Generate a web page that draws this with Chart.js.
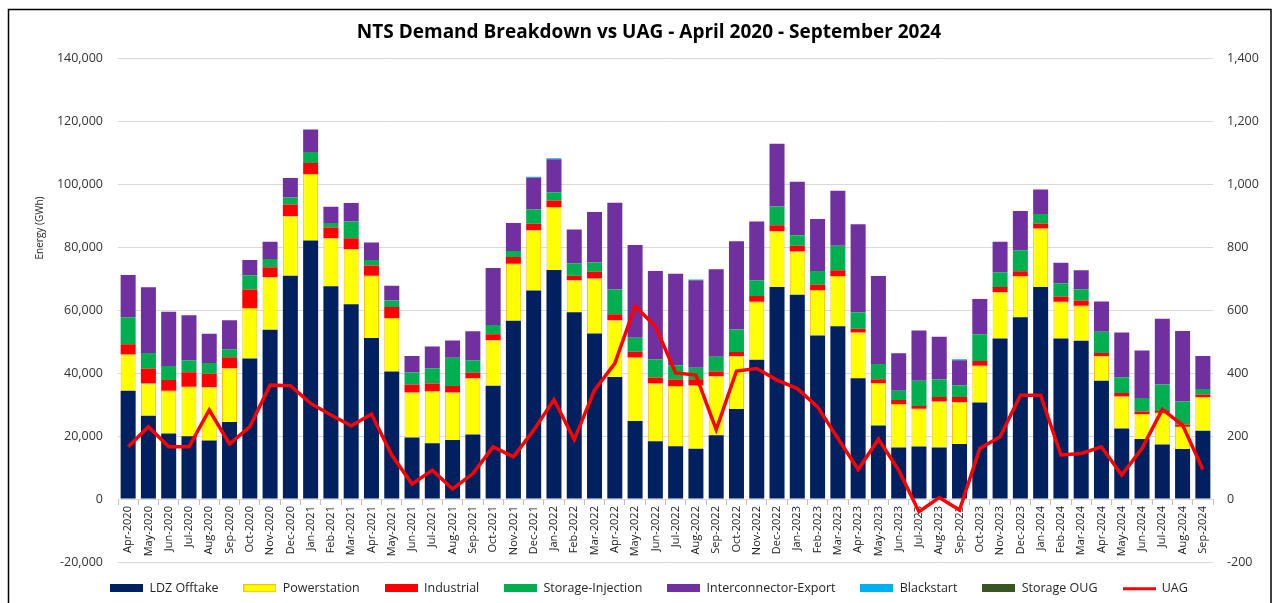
<!DOCTYPE html>
<html>
<head>
<meta charset="utf-8">
<script src="https://cdn.jsdelivr.net/npm/chart.js@4.4.1/dist/chart.umd.min.js"></script>
<style>
html,body{margin:0;padding:0;background:#ffffff;}
#wrap{width:1278px;height:603px;position:relative;overflow:hidden;}
</style>
</head>
<body>
<div id="wrap"><canvas id="c" width="1278" height="603"></canvas></div>
<script>
const chartTitle = 'NTS Demand Breakdown vs UAG - April 2020 - September 2024';
const yAxisTitle = 'Energy (GWh)';

const months = [
  'Apr-2020','May-2020','Jun-2020','Jul-2020','Aug-2020','Sep-2020','Oct-2020','Nov-2020','Dec-2020',
  'Jan-2021','Feb-2021','Mar-2021','Apr-2021','May-2021','Jun-2021','Jul-2021','Aug-2021','Sep-2021','Oct-2021','Nov-2021','Dec-2021',
  'Jan-2022','Feb-2022','Mar-2022','Apr-2022','May-2022','Jun-2022','Jul-2022','Aug-2022','Sep-2022','Oct-2022','Nov-2022','Dec-2022',
  'Jan-2023','Feb-2023','Mar-2023','Apr-2023','May-2023','Jun-2023','Jul-2023','Aug-2023','Sep-2023','Oct-2023','Nov-2023','Dec-2023',
  'Jan-2024','Feb-2024','Mar-2024','Apr-2024','May-2024','Jun-2024','Jul-2024','Aug-2024','Sep-2024'
];

const ldzOfftake = [
  34400,26500,20800,20000,18600,24500,44700,53800,71000,
  82200,67600,61900,51200,40500,19600,17700,18800,20500,36000,56700,66300,
  72800,59400,52600,38800,24800,18400,16800,16000,20300,28600,44300,67400,
  64900,52000,54900,38400,23400,16400,16700,16400,17500,30700,51000,57800,
  67400,51000,50300,37600,22400,19100,17300,15900,21700
];
const powerstation = [
  11500,10200,13600,15700,16900,17100,16000,16700,18900,
  21100,15300,17500,19800,17000,14300,16600,15100,17900,14500,18100,19100,
  20000,10100,17500,18000,20200,18300,19100,20100,18700,16800,18400,17700,
  13800,14400,16000,14500,13500,13800,12000,14600,13300,11700,14700,13100,
  18600,11700,11100,7800,10200,7900,10100,7100,10700
];
const industrial = [
  3300,4800,3400,4600,4300,3500,5900,3200,3700,
  3500,3400,3500,3200,3500,2500,2400,2000,1700,1900,2100,2100,
  2100,1500,2100,1900,1800,1900,2100,2000,1500,1300,1800,1900,
  1800,1700,1800,1200,1200,1300,900,1400,1600,1500,1700,1500,
  1600,1700,1700,1000,1100,800,600,700,800
];
const storageInjection = [
  8600,4900,4500,3800,3400,2500,4500,2600,2200,
  3500,1400,5300,1800,2100,3800,4900,9000,4000,2900,1900,4500,
  2600,3900,3000,7900,4500,5800,4500,3600,4700,7200,5000,6000,
  3300,4400,7800,5300,4800,2900,8000,5600,3800,8500,4700,6700,
  3000,4200,3600,6800,5000,4300,8400,7300,1800
];
const interconnectorExport = [
  13400,20900,17200,14300,9300,9200,4900,5500,6200,
  7100,5200,5900,5500,4700,5300,6900,5500,9200,18100,8900,10100,
  10500,10800,16000,27600,29400,28100,29100,27800,27800,28000,18700,19900,
  17000,16500,17500,27900,28000,11900,16000,13600,7900,11200,9700,12400,
  7800,6500,6000,9600,14200,15100,20900,22400,10500
];
const blackstart = [
  0,0,0,0,0,0,0,0,0,
  0,0,0,0,0,0,0,0,0,0,0,300,
  300,0,0,0,0,0,0,300,0,0,0,0,
  0,0,0,0,0,0,0,0,300,0,0,0,
  0,0,0,0,0,0,0,0,0
];
const storageOUG = [
  0,0,0,0,0,0,0,0,0,
  0,0,0,0,0,0,0,0,0,0,0,0,
  0,0,0,0,0,0,0,0,0,0,0,0,
  0,0,0,0,0,0,0,0,0,0,0,0,
  0,0,0,0,0,0,0,0,0
];
const uag = [
  166,230,166,166,283,175,230,362,360,
  304,267,233,270,140,48,92,32,81,166,134,219,
  316,189,346,431,613,549,401,394,221,407,415,378,
  351,293,193,94,190,92,-40,5,-35,161,198,330,
  330,140,145,166,76,161,285,235,94
];

const leftTicks = [-20000,0,20000,40000,60000,80000,100000,120000,140000];
const rightTicks = [-200,0,200,400,600,800,1000,1200,1400];

const seriesNames = ['LDZ Offtake','Powerstation','Industrial','Storage-Injection','Interconnector-Export','Blackstart','Storage OUG','UAG'];
const seriesColors = ['#002060','#FFFF00','#FF0000','#00B050','#7030A0','#00B0F0','#375623','#FF0000'];

function makeIcon(color, border, isLine) {
  const cv = document.createElement('canvas');
  cv.width = 33; cv.height = 8;
  const g = cv.getContext('2d');
  if (isLine) {
    g.fillStyle = color;
    g.fillRect(0, 3, 33, 3);
  } else {
    g.fillStyle = color;
    g.fillRect(0, 0, 33, 8);
    if (border) {
      g.strokeStyle = border; g.lineWidth = 1;
      g.strokeRect(0.5, 0.5, 32, 7);
    }
  }
  return cv;
}
const legendIcons = seriesColors.map((c, i) => makeIcon(c, i === 1 ? '#FFC000' : null, i === 7));

const fontFamily = '"Open Sans", "DejaVu Sans", sans-serif';

function barSet(i, data) {
  return {
    type: 'bar',
    label: seriesNames[i],
    data: data,
    backgroundColor: seriesColors[i],
    borderColor: i === 1 ? '#FFC000' : seriesColors[i],
    borderWidth: i === 1 ? 1 : 0,
    yAxisID: 'y',
    stack: 'demand',
    barPercentage: 0.74,
    categoryPercentage: 1.0,
    order: 1
  };
}

const decorPlugin = {
  id: 'decor',
  afterLayout(chart) {
    const lg = chart.legend;
    if (lg) { lg.top -= 5; lg.bottom -= 5; }
  },
  afterDraw(chart) {
    const ctx = chart.ctx;
    ctx.save();
    ctx.strokeStyle = '#000000';
    ctx.lineWidth = 1.5;
    ctx.strokeRect(8.5, 9.5, 1262.5, 700);
    ctx.translate(40, 228);
    ctx.rotate(-Math.PI / 2);
    ctx.fillStyle = '#262626';
    ctx.font = '10px ' + fontFamily;
    ctx.textAlign = 'center';
    ctx.textBaseline = 'middle';
    ctx.fillText(yAxisTitle, 0, 0);
    ctx.restore();
  }
};

const fmt = v => Number(v).toLocaleString('en-US');

new Chart(document.getElementById('c'), {
  data: {
    labels: months,
    datasets: [
      barSet(0, ldzOfftake),
      barSet(1, powerstation),
      barSet(2, industrial),
      barSet(3, storageInjection),
      barSet(4, interconnectorExport),
      barSet(5, blackstart),
      barSet(6, storageOUG),
      {
        type: 'line',
        label: seriesNames[7],
        data: uag,
        borderColor: seriesColors[7],
        backgroundColor: seriesColors[7],
        borderWidth: 3.5,
        pointRadius: 0,
        tension: 0,
        fill: false,
        yAxisID: 'y1',
        order: -1
      }
    ]
  },
  options: {
    responsive: false,
    animation: false,
    devicePixelRatio: 1,
    layout: { padding: { left: 20, right: 0, top: 18, bottom: 0 } },
    plugins: {
      title: {
        display: true,
        text: chartTitle,
        color: '#000000',
        font: { family: fontFamily, size: 19, weight: 'bold' },
        padding: { top: 3.5, bottom: 14.2 }
      },
      legend: {
        display: true,
        position: 'bottom',
        maxHeight: 41,
        labels: {
          usePointStyle: true,
          pointStyleWidth: 33,
          boxHeight: 8,
          padding: 25,
          color: '#262626',
          font: { family: fontFamily, size: 12.5 },
          sort: (a, b) => a.datasetIndex - b.datasetIndex,
          generateLabels(chart) {
            const items = Chart.defaults.plugins.legend.labels.generateLabels(chart);
            items.forEach(it => { it.pointStyle = legendIcons[it.datasetIndex]; });
            return items;
          }
        }
      },
      tooltip: { enabled: false }
    },
    scales: {
      x: {
        type: 'category',
        stacked: true,
        position: { y: 0 },
        offset: true,
        grid: { drawOnChartArea: false, drawTicks: true, tickLength: 5, color: '#bfbfbf', offset: true },
        border: { display: true, color: '#d9d9d9', width: 1 },
        ticks: {
          autoSkip: false, minRotation: 90, maxRotation: 90, padding: 2,
          color: '#1a1a1a', font: { family: fontFamily, size: 11 }
        }
      },
      y: {
        type: 'linear',
        position: 'left',
        stacked: true,
        min: leftTicks[0],
        max: leftTicks[leftTicks.length - 1],
        afterBuildTicks(scale) { scale.ticks = leftTicks.map(v => ({ value: v })); },
        afterFit(scale) { scale.width = 98; },
        grid: { color: '#d9d9d9', lineWidth: 1, drawTicks: false },
        border: { display: false },
        ticks: {
          padding: 15, color: '#333333',
          font: { family: fontFamily, size: 12.5 },
          callback: v => fmt(v)
        }
      },
      y1: {
        type: 'linear',
        position: 'right',
        stacked: false,
        min: rightTicks[0],
        max: rightTicks[rightTicks.length - 1],
        afterBuildTicks(scale) { scale.ticks = rightTicks.map(v => ({ value: v })); },
        afterFit(scale) { scale.width = 65; },
        grid: { drawOnChartArea: false, drawTicks: false },
        border: { display: false },
        ticks: {
          padding: 14, color: '#333333',
          font: { family: fontFamily, size: 12.5 },
          callback: v => fmt(v)
        }
      }
    }
  },
  plugins: [decorPlugin]
});
</script>
</body>
</html>
